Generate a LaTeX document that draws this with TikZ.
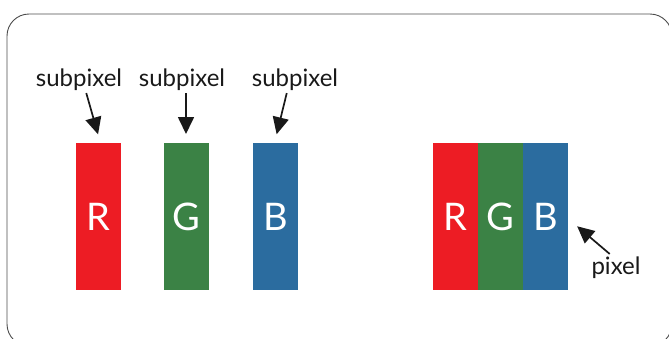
\documentclass[tikz,border=0pt]{standalone}
\usepackage{fontspec}
\setmainfont{Lato}
\usetikzlibrary{arrows.meta,positioning}
\definecolor{subR}{RGB}{237,28,36}
\definecolor{subG}{RGB}{59,130,69}
\definecolor{subB}{RGB}{43,108,159}
\tikzset{
	bar/.style={minimum width=45pt,minimum height=147pt,inner sep=0pt,outer sep=0pt,text=white,font=\fontsize{38}{38}\selectfont},
	lbl/.style={inner sep=1pt,font=\fontsize{24}{24}\selectfont,text=black!90},
	pointer/.style={->,line width=1.7pt,black!90}
}
\begin{document}
\begin{tikzpicture}[x=1pt,y=-1pt,>={Triangle[length=17pt,width=16pt]}]
	\useasboundingbox (0,0) rectangle (669,338);
	\draw[black!70,line width=0.9pt,rounded corners=22pt] (7,14) rectangle (672,346);
	\node[bar,fill=subR,anchor=north west] (barR) at (76,143) {R};
	\node[bar,fill=subG,anchor=north west] (barG) at (164,143) {G};
	\node[bar,fill=subB,anchor=north west] (barB) at (253,143) {B};
	\node[bar,fill=subR,anchor=north west] (pixR) at (433,143) {R};
	\node[bar,fill=subG,right=0pt of pixR] (pixG) {G};
	\node[bar,fill=subB,right=0pt of pixG] (pixB) {B};
	\node[lbl] (lblR) at (79,80) {subpixel};
	\node[lbl] (lblG) at (182,80) {subpixel};
	\node[lbl] (lblB) at (295,80) {subpixel};
	\node[lbl] (lblP) at (616,268) {pixel};
	\draw[pointer,shorten >=9pt,shorten <=1pt] ([xshift=7pt]lblR.south) -- ([xshift=2pt]barR.north);
	\draw[pointer,shorten >=9pt,shorten <=1pt] ([xshift=4pt]lblG.south) -- ([xshift=-0.5pt]barG.north);
	\draw[pointer,shorten >=9pt,shorten <=1pt] ([xshift=-8pt]lblB.south) -- ([xshift=-1pt]barB.north);
	\draw[pointer,shorten >=12pt,shorten <=3pt] ([xshift=-4pt]lblP.north) -- ([yshift=-2pt]pixB.east);
\end{tikzpicture}
\end{document}
